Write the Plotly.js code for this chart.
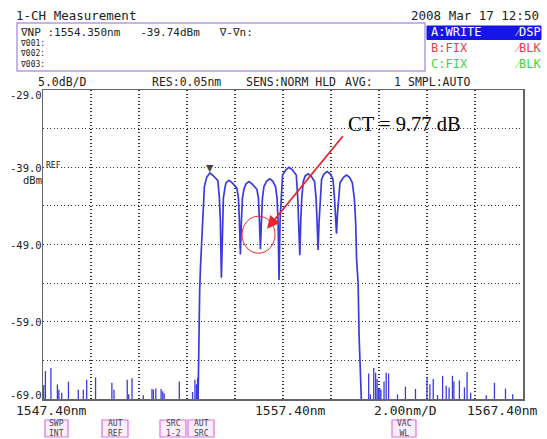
<!DOCTYPE html>
<html><head><meta charset="utf-8">
<script src="https://cdn.plot.ly/plotly-3.0.1.min.js"></script>
<style>html,body{margin:0;padding:0;background:#fff}</style>
</head><body><div id="chart" style="width:547px;height:439px"></div>
<script>
// ---- passband trace (wavelength nm, power dBm) ----
const traceWl = [
  1553.857, 1553.886, 1553.928, 1553.961, 1553.999, 1554.032, 1554.074, 1554.124, 1554.220,
  1554.350, 1554.474, 1554.687, 1554.749, 1554.791,
  1554.833,
  1554.874, 1554.916, 1554.979, 1555.025, 1555.150, 1555.275, 1555.479, 1555.542, 1555.584,
  1555.625,
  1555.667, 1555.709, 1555.771, 1555.859, 1555.984, 1556.109, 1556.313, 1556.376, 1556.418,
  1556.459,
  1556.501, 1556.543, 1556.605, 1556.722, 1556.847, 1556.972, 1557.089, 1557.152, 1557.194,
  1557.235,
  1557.277, 1557.319, 1557.381, 1557.527, 1557.652, 1557.777, 1557.953, 1558.015, 1558.057,
  1558.099,
  1558.140, 1558.182, 1558.245, 1558.320, 1558.445, 1558.570, 1558.716, 1558.778, 1558.820,
  1558.862,
  1558.904, 1558.945, 1559.008, 1559.112, 1559.237, 1559.362, 1559.483, 1559.546, 1559.588,
  1559.629,
  1559.671, 1559.713, 1559.775, 1559.921, 1560.046, 1560.172, 1560.288, 1560.372, 1560.426,
  1560.468, 1560.530, 1560.572, 1560.664, 1560.676
];
const traceDb = [
  -70, -61, -55, -52, -49, -46.5, -44.3, -41.5, -40.3,
  -39.74, -40.04, -40.74, -43.0, -46.0,
  -53.3,
  -46.0, -43.0, -41.7, -41.0, -40.7, -41.0, -41.7, -43.0, -46.0,
  -50.3,
  -46.0, -43.0, -41.85, -41.15, -40.85, -41.15, -41.85, -43.0, -46.0,
  -49.6,
  -46.0, -43.0, -41.5, -40.8, -40.5, -40.8, -41.5, -43.0, -46.0,
  -53.6,
  -46.0, -43.0, -40.0, -39.3, -39.0, -39.3, -40.0, -43.0, -46.0,
  -50.4,
  -46.0, -43.0, -40.85, -40.15, -39.85, -40.15, -40.85, -43.0, -46.0,
  -49.7,
  -46.0, -43.0, -40.55, -39.85, -39.55, -39.85, -40.55, -43.0, -45.0,
  -47.6,
  -45.0, -43.0, -41.0, -40.3, -40.0, -40.3, -41.0, -43.0, -46.0,
  -51.0, -54.0, -61.0, -69.0, -70
];
// ---- noise-floor spikes ----
const spikeWl = [
  1547.43, 1547.50, 1547.73, 1548.00, 1548.06, 1548.18, 1548.46, 1548.87, 1549.08, 1549.22,
  1549.59, 1550.27, 1550.36, 1550.91, 1550.97, 1551.11, 1551.58, 1551.94, 1552.00, 1552.10,
  1552.32, 1552.39, 1552.45, 1553.08, 1553.63, 1553.73, 1553.79, 1553.84,
  1560.97, 1561.04, 1561.18, 1561.26, 1561.32, 1561.38, 1561.44, 1561.48, 1561.61, 1561.70,
  1561.80, 1562.17, 1562.50, 1562.92, 1563.40, 1563.52, 1563.66, 1563.84, 1564.05, 1564.20,
  1564.32, 1564.46, 1564.52, 1564.75, 1564.96, 1565.07, 1565.22, 1565.87, 1566.21, 1566.67,
  1566.97
];
const spikeDb = [
  -67.2, -65.4, -65.0, -67.1, -67.8, -68.2, -66.75, -67.8, -67.8, -66.5,
  -66.2, -66.9, -67.8, -66.5, -68.4, -66.3, -68.5, -67.7, -67.8, -67.65,
  -67.7, -68.0, -68.3, -66.75, -68.1, -66.5, -67.1, -66.25,
  -65.7, -68.4, -65.0, -65.6, -66.4, -67.7, -67.65, -67.8, -66.75, -65.6,
  -65.7, -68.4, -67.4, -67.7, -66.2, -67.1, -66.4, -68.5, -66.0, -67.3,
  -67.5, -66.0, -66.75, -66.6, -67.5, -65.5, -68.2, -68.5, -66.9, -67.65,
  -68.4
];
const floorDb = -70;
const markerWl = 1554.350, markerDb = -39.74;
const xRange = [1547.4, 1567.4];
const yRange = [-69, -29];
const xGrid = [1549.4, 1551.4, 1553.4, 1555.4, 1557.4, 1559.4, 1561.4, 1563.4, 1565.4];
const yGrid = [-64, -59, -54, -49, -44, -39, -34];
const yTickLabels = ['-29.0', '-39.0', '-49.0', '-59.0', '-69.0'];
const xTickLabels = ['1547.40nm', '1557.40nm', '2.00nm/D', '1567.40nm'];

const BLUE = '#3b3bdc';
const MONO = 'DejaVu Sans Mono, monospace';

// spikes as vertical segments
const sx = [], sy = [];
spikeWl.forEach((w, i) => { sx.push(w, w, null); sy.push(floorDb, spikeDb[i], null); });

// pixel -> paper helpers for layout positions
const PL = 43, PT = 90, PW = 480, PH = 309;
const px = x => (x - PL) / PW;
const py = y => (PT + PH - y) / PH;

function txt(text, x, y, xa, size, color, extra) {
  return Object.assign({text: text, xref: 'paper', yref: 'paper', x: px(x), y: py(y),
    xanchor: xa, yanchor: 'middle', showarrow: false,
    font: {family: MONO, size: size, color: color || '#222'}}, extra || {});
}

const ann = [
  txt('1-CH Measurement', 14, 15, 'left', 12.5),
  txt('2008 Mar 17 12:50', 541, 15, 'right', 12.5),
  txt('∇NP\u00a0:1554.350nm\u00a0\u00a0\u00a0-39.74dBm\u00a0\u00a0\u00a0∇-∇n:', 18, 32, 'left', 11),
  txt('∇001:<br>∇002:<br>∇003:', 18, 54.5, 'left', 8, '#222', {align: 'left', yanchor: 'middle'}),
  txt('A:WRITE', 429, 32.5, 'left', 12, '#ffffff'),
  txt('⁄DSP', 543, 32.5, 'right', 12, '#ffffff'),
  txt('B:FIX', 429, 48, 'left', 12, '#e8404a'),
  txt('⁄BLK', 543, 48, 'right', 12, '#e8404a'),
  txt('C:FIX', 429, 64, 'left', 12, '#3fd43f'),
  txt('⁄BLK', 543, 64, 'right', 12, '#3fd43f'),
  txt('5.0dB/D', 36, 82, 'left', 11.5),
  txt('RES:0.05nm', 150, 82, 'left', 11.5),
  txt('SENS:NORM HLD', 244, 82, 'left', 11.5),
  txt('AVG:', 343, 82, 'left', 11.5),
  txt('1', 392, 82, 'left', 11.5),
  txt('SMPL:AUTO', 406, 82, 'left', 11.5),
  txt(yTickLabels[0], 44, 95, 'right', 10.5),
  txt(yTickLabels[1], 44, 168, 'right', 10.5),
  txt('dBm', 44, 180, 'right', 10.5),
  txt(yTickLabels[2], 44, 245, 'right', 10.5),
  txt(yTickLabels[3], 44, 322, 'right', 10.5),
  txt(yTickLabels[4], 44, 395, 'right', 10.5),
  txt('REF', 44, 165, 'left', 8),
  txt(xTickLabels[0], 14, 410, 'left', 13),
  txt(xTickLabels[1], 290, 410, 'center', 13),
  txt(xTickLabels[2], 405, 410, 'center', 13),
  txt(xTickLabels[3], 540, 410, 'right', 13),
  txt('SWP<br>INT', 56.5, 428.5, 'center', 8, '#444'),
  txt('AUT<br>REF', 115, 428.5, 'center', 8, '#444'),
  txt('SRC<br>1-2', 173, 428.5, 'center', 8, '#444'),
  txt('AUT<br>SRC', 201, 428.5, 'center', 8, '#444'),
  txt('VAC<br>WL', 404, 428.5, 'center', 8, '#444'),
  {text: 'CT = 9.77 dB', xref: 'paper', yref: 'paper', x: px(346), y: py(124), xanchor: 'left', yanchor: 'middle',
   showarrow: false, font: {family: 'Liberation Serif, Times New Roman, serif', size: 20.5, color: '#000'}},
  {text: '', x: 1556.735, y: -46.96, xref: 'x', yref: 'y', showarrow: true, ax: 77, ay: -94,
   arrowcolor: '#e8252b', arrowwidth: 1.8, arrowhead: 2, arrowsize: 1.4},
  {text: '▼', x: markerWl, y: markerDb, xref: 'x', yref: 'y', xanchor: 'center', yanchor: 'bottom',
   showarrow: false, font: {family: 'DejaVu Sans', size: 9.5, color: '#444'}, yshift: -2}
];

function rect(x0, y0, x1, y1, line, fill, w) {
  return {type: 'rect', xref: 'paper', yref: 'paper', x0: px(x0), x1: px(x1), y0: py(y1), y1: py(y0),
    line: {color: line, width: w || 1}, fillcolor: fill, layer: 'above'};
}
const shapes = [
  rect(17, 23, 425, 71, '#b49be0', 'rgba(0,0,0,0)', 1.5),
  rect(427, 26, 541, 39.5, '#1515e6', '#1515e6', 0),
  rect(45, 420, 68, 437, '#e070e0', '#fdeefd', 1.2),
  rect(102, 420, 128, 437, '#e070e0', '#fdeefd', 1.2),
  rect(160, 420, 186, 437, '#e070e0', '#fdeefd', 1.2),
  rect(188, 420, 214, 437, '#e070e0', '#fdeefd', 1.2),
  rect(392, 420, 416, 437, '#e070e0', '#fdeefd', 1.2),
  {type: 'circle', xref: 'x', yref: 'y', xsizemode: 'pixel', ysizemode: 'pixel',
   xanchor: 1556.38, yanchor: -47.73, x0: -16.5, x1: 16.5, y0: -18.5, y1: 18.5,
   line: {color: '#e8252b', width: 1}, layer: 'above'}
];
shapes[1].layer = 'below';

const data = [
  {x: sx, y: sy, type: 'scatter', mode: 'lines', line: {color: BLUE, width: 1.3}, hoverinfo: 'skip'},
  {x: traceWl, y: traceDb, type: 'scatter', mode: 'lines', line: {color: BLUE, width: 1.7}, hoverinfo: 'skip'}
];

const layout = {
  width: 547, height: 439,
  margin: {l: PL, r: 547 - PL - PW, t: PT, b: 439 - PT - PH, pad: 0},
  paper_bgcolor: '#fff', plot_bgcolor: '#fff', showlegend: false,
  xaxis: {range: xRange, tickvals: xGrid, showticklabels: false, ticks: '',
    showgrid: true, gridcolor: '#333', griddash: '1.3px,2.2px', gridwidth: 1.2, zeroline: false,
    showline: true, mirror: true, linecolor: '#666', linewidth: 1.5, fixedrange: true},
  yaxis: {range: yRange, tickvals: yGrid, showticklabels: false, ticks: '',
    showgrid: true, gridcolor: '#333', griddash: '1.3px,2.2px', gridwidth: 1.2, zeroline: false,
    showline: true, mirror: true, linecolor: '#666', linewidth: 1.5, fixedrange: true},
  annotations: ann, shapes: shapes
};
Plotly.newPlot('chart', data, layout, {displayModeBar: false, staticPlot: true});
</script></body></html>
